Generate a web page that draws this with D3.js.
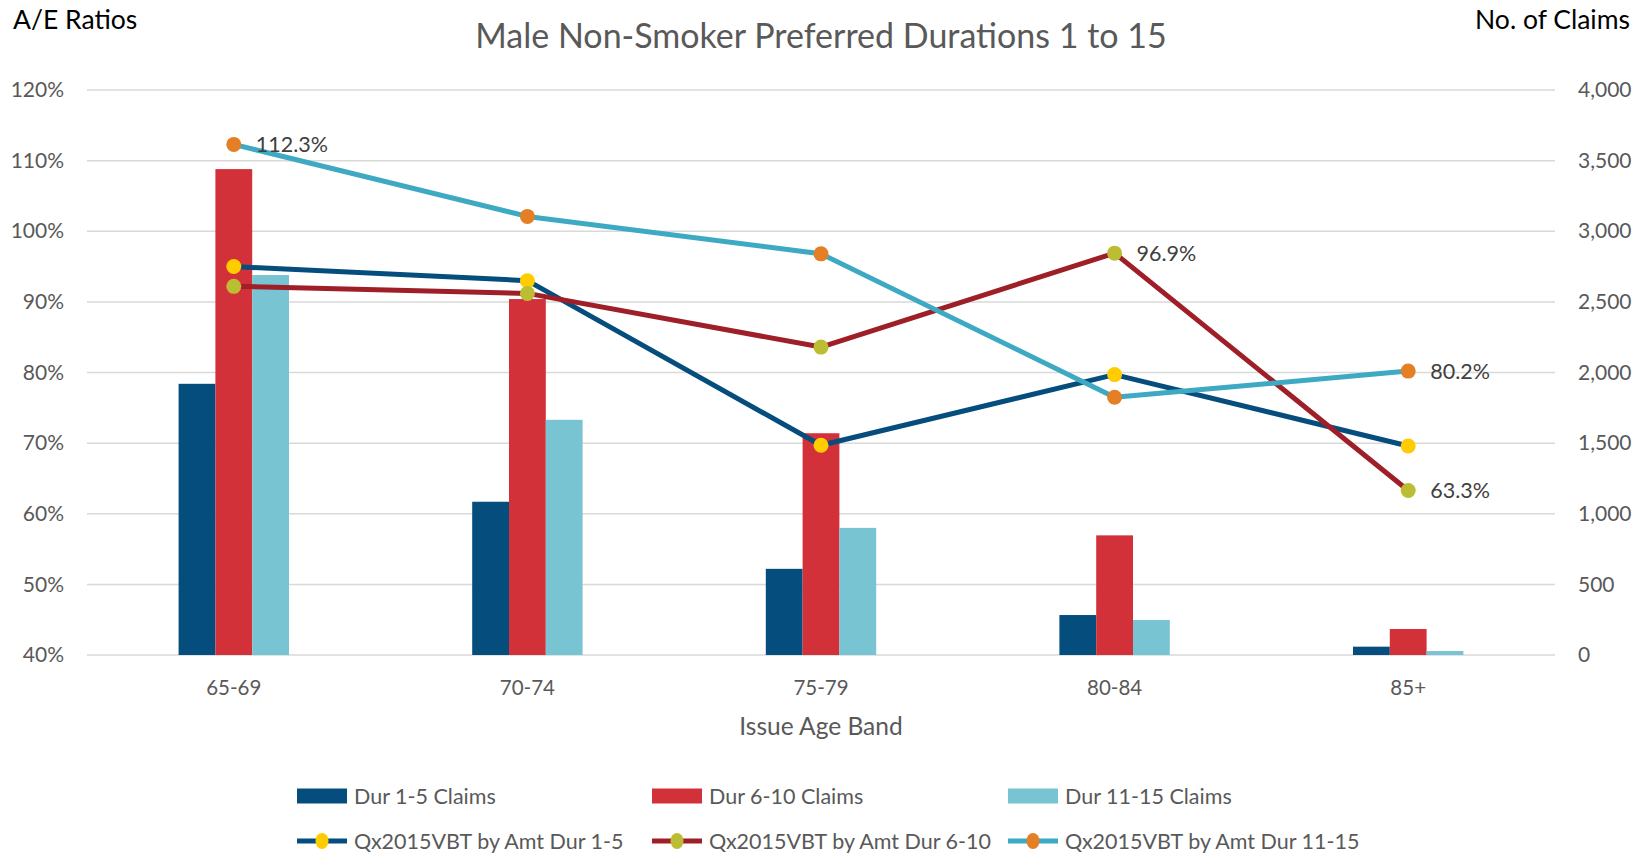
<!DOCTYPE html>
<html><head><meta charset="utf-8">
<script src="https://cdn.jsdelivr.net/npm/d3@7"></script>
<style>
html,body{margin:0;padding:0;background:#fff;}
svg{display:block;font-family:Lato, "Open Sans", sans-serif;}
</style></head>
<body>
<svg id="chart" width="1649" height="855"></svg>
<script>
const categories = ["65-69", "70-74", "75-79", "80-84", "85+"];
const barSeriesNames = ["Dur 1-5 Claims", "Dur 6-10 Claims", "Dur 11-15 Claims"];
const claimsDur1_5 = [1920, 1085, 610, 283, 59];
const claimsDur6_10 = [3440, 2520, 1570, 847, 184];
const claimsDur11_15 = [2690, 1665, 900, 248, 28];
const lineSeriesNames = ["Qx2015VBT by Amt Dur 1-5", "Qx2015VBT by Amt Dur 6-10", "Qx2015VBT by Amt Dur 11-15"];
const aeDur1_5 = [95.0, 93.0, 69.7, 79.7, 69.6];
const aeDur6_10 = [92.2, 91.2, 83.6, 96.9, 63.3];
const aeDur11_15 = [112.3, 102.1, 96.8, 76.5, 80.2];
const leftTicks = [40, 50, 60, 70, 80, 90, 100, 110, 120];
const rightTicks = [0, 500, 1000, 1500, 2000, 2500, 3000, 3500, 4000];
// data labels shown: [series index, category index]
const shownLabels = [[2, 0], [1, 3], [2, 4], [1, 4]];

const barColors = ["#044d7c", "#d3313a", "#79c4d3"];
const lineColors = ["#044d7c", "#9f1f28", "#3ea9c2"];
const markerColors = ["#ffcc00", "#bbbd32", "#e47f25"];

const svg = d3.select("#chart");
const pLeft = 87, pRight = 1555, pTop = 90, pBottom = 655;

const x = d3.scaleBand().domain(categories).range([pLeft, pRight]).paddingInner(0).paddingOuter(0);
const yL = d3.scaleLinear().domain([40, 120]).range([pBottom, pTop]);
const yR = d3.scaleLinear().domain([0, 4000]).range([pBottom, pTop]);
const xs = d3.scaleBand().domain([0, 1, 2]).range([-55.2, 55.2]);

// gridlines
svg.append("g").selectAll("line").data(leftTicks).join("line")
  .attr("x1", pLeft).attr("x2", pRight)
  .attr("y1", d => yL(d)).attr("y2", d => yL(d))
  .attr("stroke", "#d9d9d9").attr("stroke-width", 1.5);

// left axis
const axL = d3.axisLeft(yL).tickValues(leftTicks).tickFormat(d => d + "%").tickSize(0).tickPadding(0);
const gL = svg.append("g").attr("transform", `translate(64,0)`).call(axL);
gL.select(".domain").remove();
gL.selectAll("text").attr("fill", "#595959").style("font-size", "21px").style("font-family", "Lato, sans-serif");

// right axis
const axR = d3.axisRight(yR).tickValues(rightTicks).tickFormat(d3.format(",")).tickSize(0).tickPadding(0);
const gR = svg.append("g").attr("transform", `translate(1578,0)`).call(axR);
gR.select(".domain").remove();
gR.selectAll("text").attr("fill", "#595959").style("font-size", "21px").style("font-family", "Lato, sans-serif");

// x axis
const axX = d3.axisBottom(x).tickSize(0).tickPadding(0);
const gX = svg.append("g").attr("transform", `translate(0,${pBottom + 25})`).call(axX);
gX.select(".domain").remove();
gX.selectAll("text").attr("fill", "#595959").style("font-size", "20.5px").style("font-family", "Lato, sans-serif");

// bars
const barData = [claimsDur1_5, claimsDur6_10, claimsDur11_15];
barData.forEach((vals, si) => {
  svg.append("g").selectAll("rect").data(vals).join("rect")
    .attr("x", (d, i) => x(categories[i]) + x.bandwidth() / 2 + xs(si))
    .attr("width", xs.bandwidth())
    .attr("y", d => yR(d))
    .attr("height", d => pBottom - yR(d))
    .attr("fill", barColors[si]);
});

// lines
const lineData = [aeDur1_5, aeDur6_10, aeDur11_15];
const lineGen = d3.line().x((d, i) => x(categories[i]) + x.bandwidth() / 2).y(d => yL(d));
lineData.forEach((vals, si) => {
  svg.append("path").datum(vals).attr("d", lineGen)
    .attr("fill", "none").attr("stroke", lineColors[si]).attr("stroke-width", 5)
    .attr("stroke-linejoin", "round");
});
lineData.forEach((vals, si) => {
  svg.append("g").selectAll("circle").data(vals).join("circle")
    .attr("cx", (d, i) => x(categories[i]) + x.bandwidth() / 2)
    .attr("cy", d => yL(d))
    .attr("r", 7.5)
    .attr("fill", markerColors[si]);
});

// data labels
shownLabels.forEach(([si, ci]) => {
  const v = lineData[si][ci];
  svg.append("text")
    .attr("x", x(categories[ci]) + x.bandwidth() / 2 + 22)
    .attr("y", yL(v))
    .attr("dy", "0.35em")
    .attr("fill", "#404040")
    .style("font-size", "21.5px")
    .text(v.toFixed(1) + "%");
});

// titles
svg.append("text").attr("x", 821).attr("y", 36).attr("dy", "0.35em")
  .attr("text-anchor", "middle").attr("fill", "#595959").style("font-size", "34px")
  .text("Male Non-Smoker Preferred Durations 1 to 15");
svg.append("text").attr("x", 13).attr("y", 20).attr("dy", "0.35em")
  .attr("fill", "#000").style("font-size", "26.5px").text("A/E Ratios");
svg.append("text").attr("x", 1630).attr("y", 20).attr("dy", "0.35em")
  .attr("text-anchor", "end").attr("fill", "#000").style("font-size", "26.5px").text("No. of Claims");
svg.append("text").attr("x", 821).attr("y", 726).attr("dy", "0.35em")
  .attr("text-anchor", "middle").attr("fill", "#595959").style("font-size", "24.5px").text("Issue Age Band");

// legend
const legX = [297, 652, 1008];
barSeriesNames.forEach((name, i) => {
  const g = svg.append("g").attr("transform", `translate(${legX[i]},796)`);
  g.append("rect").attr("x", 0).attr("y", -7.5).attr("width", 50).attr("height", 15).attr("fill", barColors[i]);
  g.append("text").attr("x", 57).attr("y", 0).attr("dy", "0.35em").attr("fill", "#595959")
    .style("font-size", "21.5px").text(name);
});
lineSeriesNames.forEach((name, i) => {
  const g = svg.append("g").attr("transform", `translate(${legX[i]},841)`);
  g.append("line").attr("x1", 0).attr("x2", 50).attr("y1", 0).attr("y2", 0)
    .attr("stroke", lineColors[i]).attr("stroke-width", 5);
  g.append("ellipse").attr("cx", 25).attr("cy", 0).attr("rx", 6.5).attr("ry", 8).attr("fill", markerColors[i]);
  g.append("text").attr("x", 57).attr("y", 0).attr("dy", "0.35em").attr("fill", "#595959")
    .style("font-size", "21.5px").text(name);
});
</script>
</body></html>
